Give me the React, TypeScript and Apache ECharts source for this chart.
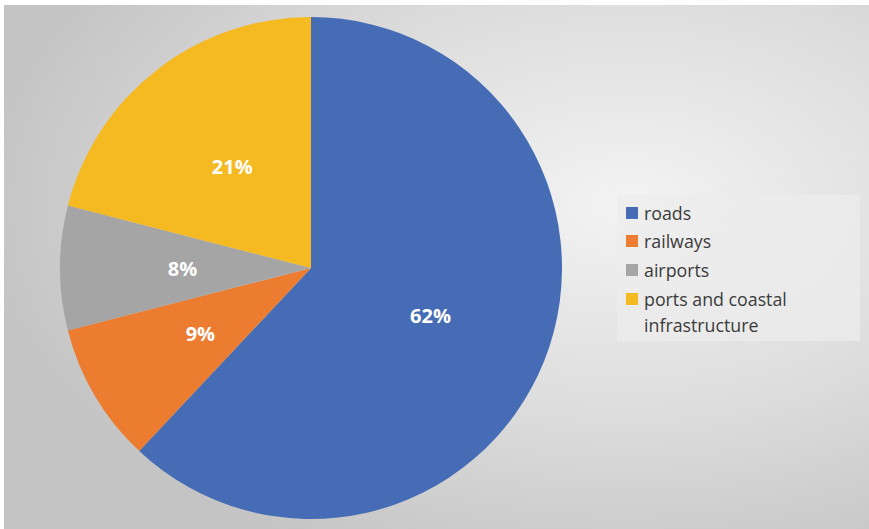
import React, { useEffect, useRef } from "react";
import * as echarts from "echarts";

const categories = ["roads", "railways", "airports", "ports and coastal\ninfrastructure"];
const shares = [62, 9, 8, 21];
const colors = ["#456cb5", "#ec7c30", "#a5a5a5", "#f5b922"];

export default function App() {
  const ref = useRef<HTMLDivElement>(null);
  useEffect(() => {
    if (!ref.current) return;
    const chart = echarts.init(ref.current, null, { renderer: "svg" });
    const legendX = 617;
    const legendY = 195;
    const rowYs = [213, 241, 270, 299];
    const legendEls: any[] = [
      {
        type: "rect",
        shape: { x: legendX, y: legendY, width: 243, height: 146 },
        style: { fill: "rgba(236,236,236,0.75)" },
        z: 5,
      },
    ];
    categories.forEach((name, i) => {
      legendEls.push({
        type: "rect",
        shape: { x: 626, y: rowYs[i] - 6, width: 12, height: 12 },
        style: { fill: colors[i] },
        z: 6,
      });
      legendEls.push({
        type: "text",
        x: 644,
        y: rowYs[i] - 13,
        style: {
          text: name,
          fill: "#3b3b3b",
          font: '17.8px "Open Sans", sans-serif',
          lineHeight: 26,
          verticalAlign: "top",
        },
        z: 6,
      });
    });
    chart.setOption({
      animation: false,
      graphic: [
        {
          type: "rect",
          shape: { x: 4, y: 5, width: 865, height: 524 },
          style: {
            fill: new echarts.graphic.RadialGradient(0.72, 0.38, 0.75, [
              { offset: 0, color: "#f3f3f3" },
              { offset: 0.55, color: "#dcdcdc" },
              { offset: 1, color: "#c4c4c4" },
            ]),
          },
          z: -10,
          silent: true,
        },
        ...legendEls,
      ],
      series: [
        {
          type: "pie",
          center: [311, 268],
          radius: 251,
          startAngle: 90,
          clockwise: true,
          data: categories.map((n, i) => ({
            name: n,
            value: shares[i],
            itemStyle: { color: colors[i] },
          })),
          label: {
            position: "inside",
            formatter: "{c}%",
            color: "#ffffff",
            fontSize: 20,
            fontWeight: "bold",
            fontFamily: '"Open Sans", sans-serif',
          },
          labelLine: { show: false },
          itemStyle: { borderWidth: 0 },
          emphasis: { disabled: true },
        },
      ],
    });
    return () => chart.dispose();
  }, []);
  return (
    <div
      ref={ref}
      style={{ position: "absolute", left: 0, top: 0, width: 869, height: 529, background: "#ffffff" }}
    />
  );
}
